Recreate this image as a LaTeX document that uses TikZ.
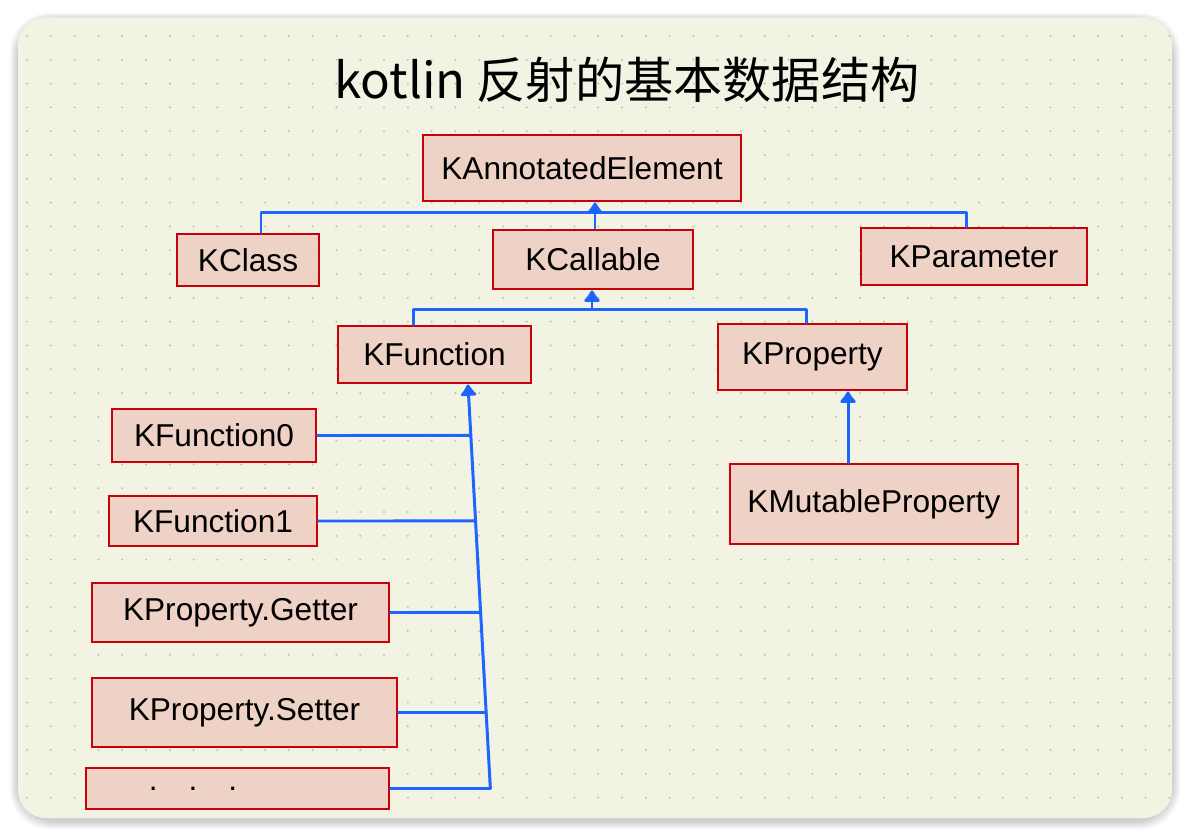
\documentclass[tikz,border=0pt]{standalone}
\usepackage{fontspec}
\setmainfont{Liberation Sans}
\newfontfamily\cjkfont{Noto Sans CJK SC}
\usepackage{xcolor}
\usepackage{tikz}
\usetikzlibrary{arrows.meta,positioning,calc}
\definecolor{kpaper}{HTML}{F3F3E3}
\definecolor{kdot}{HTML}{BEBEB2}
\definecolor{kfill}{HTML}{EECFC2}
\definecolor{kred}{HTML}{C8000A}
\definecolor{kblue}{HTML}{1E64FF}
\tikzset{
  kbox/.style={
    rectangle,
    draw=kred,
    fill=kfill,
    fill opacity=0.9,
    text opacity=1,
    line width=1.6pt,
    inner sep=0pt,
    font=\fontsize{18}{20}\selectfont
  },
  klink/.style={draw=kblue, line width=1.7pt, line cap=round, line join=round},
  kinherit/.style={klink, -{Latex[length=2.6mm, width=4mm, round]}}
}

\begin{document}
\begin{tikzpicture}[x=0.02cm, y=-0.02cm]
\useasboundingbox (0,0) rectangle (1191,838);
\fill[white] (0,0) rectangle (1191,838);
% soft shadow round the card
\foreach \s in {1,...,8}
  \fill[black, opacity=0.025, rounded corners=22]
    (18-\s,18-\s+3) rectangle (1172+\s,818+\s+3);
\fill[kpaper, rounded corners=16] (18,18) rectangle (1172,818);
% dotted grid
\foreach \i in {0,...,48}
  \foreach \j in {0,...,32}
    \fill[kdot] (27+\i*23.8,36+\j*23.8) circle (1.1);

\node (title) at (627,80) {\fontsize{28}{30}\selectfont\cjkfont kotlin 反射的基本数据结构};

\node[kbox, minimum width=6.36cm, minimum height=1.32cm] (kae) at (582,168) {KAnnotatedElement};
\node[kbox, minimum width=2.84cm, minimum height=1.04cm] (kclass) at (248,260) {KClass};
\node[kbox, minimum width=4.0cm, minimum height=1.18cm] (kcall) at (593,259.5) {KCallable};
\node[kbox, minimum width=4.52cm, minimum height=1.14cm] (kparam) at (974,256.5) {KParameter};
\node[kbox, minimum width=3.86cm, minimum height=1.14cm] (kfun) at (434.5,354.5) {KFunction};
\node[kbox, minimum width=3.78cm, minimum height=1.32cm] (kprop) at (812.5,357) {KProperty};
\node[kbox, minimum width=5.76cm, minimum height=1.6cm] (kmut) at (874,504) {KMutableProperty};
\node[kbox, minimum width=4.08cm, minimum height=1.06cm] (kfzero) at (214,435.5) {KFunction0};
\node[kbox, minimum width=4.16cm, minimum height=1.0cm] (kfone) at (213,521) {KFunction1};
\node[kbox, minimum width=5.94cm, minimum height=1.18cm] (kget) at (240.5,612.5) {KProperty.Getter};
\node[kbox, minimum width=6.1cm, minimum height=1.38cm] (kset) at (244.5,712.5) {KProperty.Setter};
\node[kbox, minimum width=6.06cm, minimum height=0.82cm] (kmore) at (237.5,788.5)
  {.\hspace{0.62cm}.\hspace{0.62cm}.\hspace*{1.78cm}\null};

% KClass, KCallable, KParameter -> KAnnotatedElement
\coordinate (jtop) at ($(kcall.north)+(2,-16)$);
\draw[klink] ([xshift=0.26cm]kclass.north) |- (jtop) -| ([xshift=-0.16cm]kparam.north);
\draw[kinherit] (kcall.north -| jtop) -- (jtop |- kae.south);

% KFunction, KProperty -> KCallable
\coordinate (jmid) at ($(kcall.south)+(-1,19)$);
\draw[klink] ([xshift=-0.43cm]kfun.north) |- (jmid) -| ([xshift=-0.13cm]kprop.north);
\draw[kinherit] (jmid) -- (jmid |- kcall.south);

% KMutableProperty -> KProperty
\draw[kinherit] ([xshift=-0.52cm]kmut.north) -- ([xshift=-0.52cm]kmut.north |- kprop.south);

% function types -> KFunction
\coordinate (bustop) at ([xshift=0.67cm]kfun.south);
\coordinate (busend) at ([xshift=2cm]kmore.east);
\draw[kinherit] (busend) -- (bustop);
\draw[klink] (kmore.east) -- (busend);
\foreach \n in {kfzero,kfone,kget,kset}{
  \coordinate (h) at (\n.east -| busend);
  \draw[klink] (\n.east) -- (intersection of \n.east--h and bustop--busend);
}
\end{tikzpicture}
\end{document}
